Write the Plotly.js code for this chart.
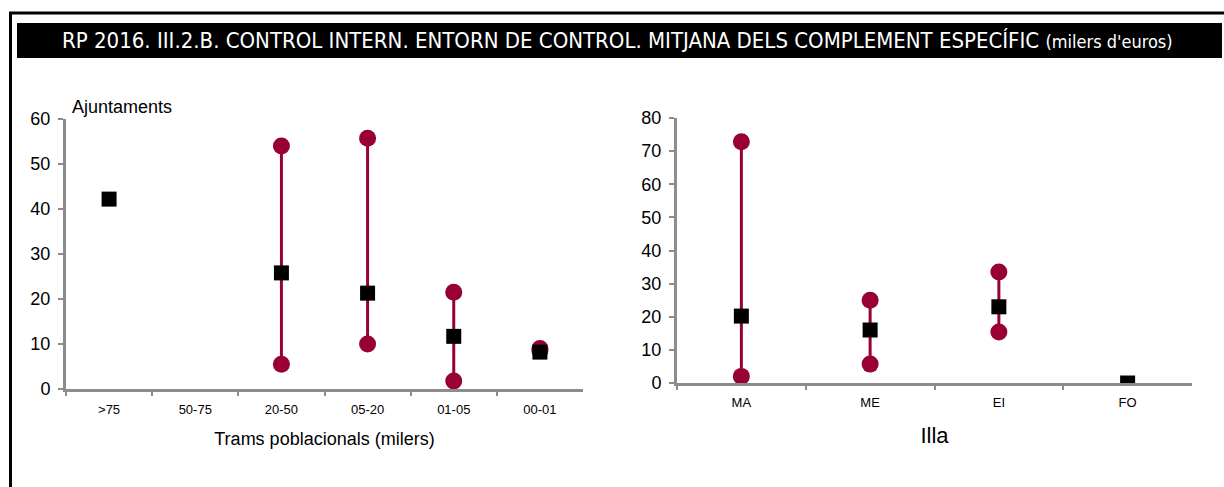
<!DOCTYPE html>
<html>
<head>
<meta charset="utf-8">
<script src="https://cdn.plot.ly/plotly-3.0.1.min.js"></script>
<style>html,body{margin:0;padding:0;background:#fff;}#chart{width:1224px;height:487px;}</style>
</head>
<body>
<div id="chart"></div>
<script>
// Left panel: population brackets (thousands)
const trams = [">75", "50-75", "20-50", "05-20", "01-05", "00-01"];
const tramsMax = [null, null, 54, 55.7, 21.5, 9];
const tramsMin = [null, null, 5.5, 10, 1.8, 8.5];
const tramsMean = [42.2, null, 25.8, 21.3, 11.7, 8.2];

// Right panel: islands
const illes = ["MA", "ME", "EI", "FO"];
const illaMax = [72.8, 25, 33.5, null];
const illaMin = [2, 5.7, 15.4, null];
const illaMean = [20.2, 16, 23, 0];

const leftTicks = [0, 10, 20, 30, 40, 50, 60];
const rightTicks = [0, 10, 20, 30, 40, 50, 60, 70, 80];

const RED = "#990033";
const AXIS = "#8c8c8c";
const FONT = "'Liberation Sans', Arial, sans-serif";
const COND = "'DejaVu Sans Condensed', 'Liberation Sans', sans-serif";
const W = 1224, H = 487;
const px = v => v / W;
const py = v => 1 - v / H;

function rangeTraces(cats, mins, maxs, means, xa, ya) {
  const lx = [], ly = [], cx = [], cy = [];
  cats.forEach((c, i) => {
    if (mins[i] != null && maxs[i] != null) {
      lx.push(c, c, null); ly.push(mins[i], maxs[i], null);
      cx.push(c, c); cy.push(mins[i], maxs[i]);
    }
  });
  return [
    {x: lx, y: ly, xaxis: xa, yaxis: ya, mode: "lines", type: "scatter",
     line: {color: RED, width: 3}, hoverinfo: "skip", showlegend: false},
    {x: cx, y: cy, xaxis: xa, yaxis: ya, mode: "markers", type: "scatter",
     marker: {color: RED, size: 17, symbol: "circle"}, showlegend: false},
    {x: cats, y: means, xaxis: xa, yaxis: ya, mode: "markers", type: "scatter",
     marker: {color: "#000", size: 15, symbol: "square"}, showlegend: false}
  ];
}

const data = [
  ...rangeTraces(trams, tramsMin, tramsMax, tramsMean, "x", "y"),
  ...rangeTraces(illes, illaMin, illaMax, illaMean, "x2", "y2")
];

const xBase = {
  type: "category", showline: true, linecolor: AXIS, linewidth: 3,
  showgrid: false, zeroline: false, ticks: "outside", tickson: "boundaries",
  ticklen: 4, tickwidth: 2, tickcolor: AXIS,
  tickfont: {family: FONT, size: 13, color: "#000"},
  fixedrange: true
};
const yBase = {
  showline: true, linecolor: AXIS, linewidth: 3, showgrid: false, zeroline: false,
  ticks: "outside", ticklen: 5, tickwidth: 2, tickcolor: AXIS, ticklabelstandoff: 4,
  tickfont: {family: FONT, size: 18, color: "#000"}, fixedrange: true
};

const layout = {
  width: W, height: H,
  margin: {l: 0, r: 0, t: 0, b: 0},
  paper_bgcolor: "#fff", plot_bgcolor: "rgba(0,0,0,0)",
  showlegend: false,
  xaxis: Object.assign({}, xBase, {
    domain: [px(66), px(583)], anchor: "y",
    categoryorder: "array", categoryarray: trams,
    range: [-0.5, trams.length - 0.5], ticklabelstandoff: 6,
    title: {text: "Trams poblacionals (milers)", font: {family: FONT, size: 18, color: "#000"}, standoff: 17}
  }),
  yaxis: Object.assign({}, yBase, {
    domain: [1 - 389 / H, 1 - 119 / H], anchor: "x",
    range: [0, 60], tickvals: leftTicks, ticktext: leftTicks.map(String)
  }),
  xaxis2: Object.assign({}, xBase, {
    domain: [px(677), px(1192)], anchor: "y2",
    categoryorder: "array", categoryarray: illes,
    range: [-0.5, illes.length - 0.5], ticklabelstandoff: 5,
    title: {text: "Illa", font: {family: FONT, size: 22, color: "#000"}, standoff: 20}
  }),
  yaxis2: Object.assign({}, yBase, {
    domain: [1 - 383 / H, 1 - 118 / H], anchor: "x2",
    range: [0, 80], tickvals: rightTicks, ticktext: rightTicks.map(String)
  }),
  shapes: [
    {type: "line", xref: "paper", yref: "paper", x0: px(9), x1: px(1224), y0: py(13), y1: py(13),
     line: {color: "#000", width: 3}},
    {type: "line", xref: "paper", yref: "paper", x0: px(10.5), x1: px(10.5), y0: py(12), y1: py(487),
     line: {color: "#000", width: 3}},
    {type: "rect", xref: "paper", yref: "paper", x0: px(17), x1: px(1222), y0: py(23), y1: py(58),
     fillcolor: "#000", line: {width: 0}, layer: "below"}
  ],
  annotations: [
    {text: "RP 2016. III.2.B. CONTROL INTERN. ENTORN DE CONTROL. MITJANA DELS COMPLEMENT ESPECÍFIC <span style='font-size:18px'>(milers d'euros)</span>",
     xref: "paper", yref: "paper", x: px(617), y: py(41), xanchor: "center", yanchor: "middle",
     showarrow: false, font: {family: COND, size: 22, color: "#fff"}},
    {text: "Ajuntaments", xref: "paper", yref: "paper", x: px(70), y: py(107),
     xanchor: "left", yanchor: "middle", showarrow: false,
     font: {family: FONT, size: 18, color: "#000"}}
  ]
};

Plotly.newPlot("chart", data, layout, {displayModeBar: false, staticPlot: true});
</script>
</body>
</html>
